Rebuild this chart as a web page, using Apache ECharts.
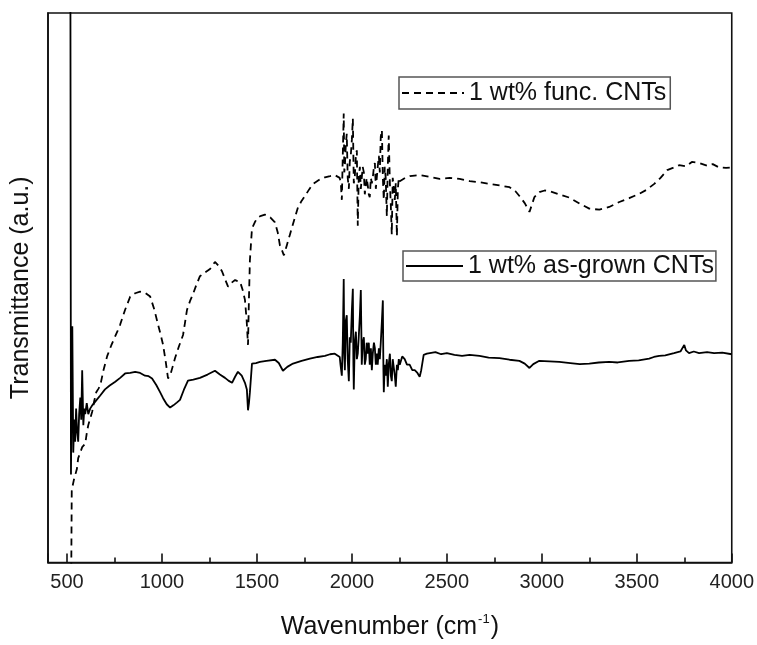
<!DOCTYPE html>
<html>
<head>
<meta charset="utf-8">
<script src="https://cdn.jsdelivr.net/npm/echarts@6/dist/echarts.min.js"></script>
<style>
html,body{margin:0;padding:0;background:#fff;}
#chart{width:757px;height:645px;}
</style>
</head>
<body>
<div id="chart"></div>
<script>
// Wavenumber ticks (major every 500, minor halfway)
var majorTicks = [500, 1000, 1500, 2000, 2500, 3000, 3500, 4000];

// 1 wt% as-grown CNTs (solid)
var asGrownWn = [518,521,524,528,533,538,543,548,553,559,564,570,575,580,586,591,596,604,612,622,633,654,675,700,725,754,780,806,833,859,885,911,930,948,970,990,1006,1025,1043,1060,1078,1095,1115,1137,1165,1200,1240,1279,1305,1332,1350,1369,1385,1400,1420,1437,1447,1453,1458,1463,1474,1495,1516,1550,1595,1615,1637,1660,1690,1735,1779,1820,1858,1885,1910,1936,
1940,1947,1952,1957,1960,1963,1968,1973,1978,1984,1989,1994,2000,2005,2008,2010,2015,2021,2026,2031,2036,2042,2047,2052,2057,2063,2068,2073,2078,2084,2089,2094,2100,2105,2110,2116,2121,2126,2131,2136,2142,2147,2152,2158,2163,2166,2168,2173,2178,2184,2189,2194,2200,2205,2210,2215,2221,2226,2231,2237,2242,2247,2252,
2265,2278,2290,2304,2318,2331,2345,2357,2365,2378,2395,2410,2440,2470,2500,2540,2580,2620,2672,2720,2777,2830,2882,2910,2935,2955,2987,3040,3092,3150,3200,3250,3300,3355,3400,3460,3510,3565,3590,3618,3650,3696,3730,3750,3759,3775,3800,3828,3870,3907,3950,4000];
var asGrownT = [104,16,30,43,20,26,22,28,24,22,27,30,26,35,25,28,27,29,27,28,28.6,29.5,30.4,31.5,32.2,32.9,33.6,34.4,34.5,34.7,34.5,34.0,33.9,33.5,32.3,31,29.9,28.8,28.2,28.6,29.1,29.6,31.4,33.1,33.3,33.6,34.2,34.9,34.2,33.6,33.1,32.7,33.8,34.7,34.0,32.7,31.5,27.7,29,31,36.2,36.3,36.5,36.7,36.9,36.3,34.9,35.6,36.2,36.7,37.1,37.4,37.6,37.9,38.0,37.4,
36,34,40,51.6,38,35,44,45,37,33,41,40,46,49.8,36,31.5,40,42,37,38,41,45,49.6,36,40,41,36,37,40,38,40,36,39,35,38,40,39,36,38,36,39,37,40,44,47.7,35,31,36,34,37,32,36,38,34,33,37,37,34,32,36,35,37,36,
37.5,37,36,36,35,35,34.5,33.8,35,37.8,38,38.1,38.3,37.9,38.1,37.8,37.6,37.8,37.6,37.3,37.2,36.9,36.7,36.2,35.4,36.1,36.7,36.6,36.5,36.3,36.1,36.2,36.4,36.5,36.4,36.7,36.8,37.1,37.4,37.6,37.7,38.1,38.4,39.6,38.6,38.1,38.4,38.1,38.3,38.1,38.2,37.9];

// 1 wt% func. CNTs (dashed)
var funcWn = [521,525,530,536,544,552,559,570,580,588,596,604,612,622,633,644,654,665,675,692,712,733,754,767,780,806,833,859,885,911,938,960,980,993,1006,1020,1032,1043,1056,1069,1090,1111,1122,1132,1148,1164,1182,1200,1227,1253,1279,1298,1316,1333,1348,1366,1385,1398,1411,1425,1437,1446,1453,1458,1463,1474,1490,1505,1522,1542,1570,1595,1610,1621,1632,1642,1658,1674,1695,1716,1735,1753,1775,1795,1826,1858,1885,1910,1936,
1942,1947,1952,1957,1960,1963,1968,1973,1978,1984,1989,1994,2000,2005,2010,2015,2021,2026,2031,2036,2042,2047,2052,2057,2063,2068,2073,2078,2084,2089,2094,2100,2105,2110,2116,2121,2126,2131,2136,2142,2147,2152,2158,2163,2168,2173,2178,2184,2189,2194,2200,2205,2210,2215,2221,2226,2231,2237,2242,2247,2252,
2280,2305,2330,2357,2410,2462,2515,2567,2620,2672,2725,2780,2830,2860,2882,2910,2935,2961,2987,3015,3040,3092,3145,3200,3250,3303,3355,3408,3460,3513,3550,3592,3625,3660,3690,3723,3760,3790,3828,3870,3900,3933,3970,4000];
var funcT = [-10,13,14,15,15,17,19,20,21,21.3,21.6,23.5,25,26.2,27.5,29.5,31,31.6,32.2,35,37.6,39.5,41.2,42.2,43.3,46,48.4,49,49.3,49.1,48.4,46,43.2,41.5,39.6,36.5,33.5,34,35.6,37.2,39.4,41.4,43.8,46,47.6,48.9,50.6,52.1,52.8,53.4,54.7,54,53,51.5,50.2,50.9,51.4,51.2,51.1,49.6,47.8,44,39.6,48,55,60.8,62,62.8,63.1,63.3,62.8,61.9,60,57.7,56.8,55.9,57.8,59.7,62.2,64.6,65.8,66.7,67.9,68.9,69.6,70.1,70.3,70.5,70,
69,66,74,81.7,71,72,76,78,70,68,73,74,77,80.8,69,70,74,75,61.3,70,72,68,68,72,71,67,67,70,68.5,67,66.5,70,69,70,72,72.7,68,68,72,74,71,77.5,78.7,70,66,72,70,63,72,77.7,69,65,59.7,70,68,66,69,59.4,68,70,69.4,
70,70.3,70.4,70.5,70.2,69.8,70,69.8,69.4,69.2,68.9,68.6,68.3,67.6,66.7,65.4,63.8,66.5,67.4,67.7,67.6,67,66.4,65.3,64.4,64.2,64.7,65.6,66.3,67.1,67.8,68.9,70,71.4,71.8,72.3,72.1,72.9,72.7,72.2,72.5,71.9,71.8,71.9];

function pairs(xs, ys){ var out=[]; for(var i=0;i<xs.length;i++){ out.push([xs[i], ys[i]]); } return out; }

var chart = echarts.init(document.getElementById('chart'), null, {renderer:'canvas'});
var fontFam = '"Liberation Sans", Arial, sans-serif';
var noIcon = {color: 'rgba(0,0,0,0)', borderColor: 'rgba(0,0,0,0)', borderWidth: 0};
chart.setOption({
  animation: false,
  backgroundColor: '#fff',
  grid: {left: 48, right: 24, top: 13, bottom: 76, show: true, borderColor: '#111', borderWidth: 1.6, backgroundColor: 'transparent'},
  xAxis: {
    type: 'value', min: 400, max: 4000, splitNumber: 7,
    axisLine: {show: true, lineStyle: {color: '#111', width: 1.6}},
    splitLine: {show: false},
    axisTick: {show: true, inside: true, length: 9, lineStyle: {color: '#111', width: 1.6}},
    minorTick: {show: true, splitNumber: 2, length: 5, lineStyle: {color: '#111', width: 1.6}},
    axisLabel: {show: true, showMinLabel: false, margin: 10, fontSize: 20, color: '#222', fontFamily: fontFam,
      formatter: function (v) { return majorTicks.indexOf(v) >= 0 ? String(v) : ''; }},
    name: '{a|Wavenumber (cm}{s|-1}{a|)}',
    nameLocation: 'middle', nameGap: 50,
    nameTextStyle: {rich: {
      a: {fontSize: 25, color: '#111', fontFamily: fontFam, lineHeight: 30},
      s: {fontSize: 13, color: '#111', fontFamily: fontFam, verticalAlign: 'top', lineHeight: 30, padding: [0, 1, 0, 1]}
    }}
  },
  yAxis: {
    type: 'value', min: 0, max: 100,
    axisLine: {show: true, lineStyle: {color: '#111', width: 1.6}},
    axisTick: {show: false}, axisLabel: {show: false}, splitLine: {show: false},
    name: 'Transmittance (a.u.)', nameLocation: 'middle', nameGap: 14,
    nameTextStyle: {fontSize: 25, color: '#111', fontFamily: fontFam}
  },
  legend: [{
    data: ['1 wt% func. CNTs'], left: 399, top: 77, orient: 'horizontal',
    itemWidth: 62, itemHeight: 14, itemGap: 0, padding: [2, 4, 2, 2],
    borderColor: '#555', borderWidth: 1.5, backgroundColor: '#fff', selectedMode: false,
    itemStyle: noIcon,
    textStyle: {fontSize: 25, lineHeight: 28, color: '#111', fontFamily: fontFam}
  }, {
    data: ['1 wt% as-grown CNTs'], left: 403, top: 251, orient: 'horizontal',
    itemWidth: 57, itemHeight: 14, itemGap: 0, padding: [1, 2, 1, 2],
    borderColor: '#555', borderWidth: 1.5, backgroundColor: '#fff', selectedMode: false,
    itemStyle: noIcon,
    textStyle: {fontSize: 25, lineHeight: 28, color: '#111', fontFamily: fontFam}
  }],
  series: [{
    name: '1 wt% func. CNTs', type: 'line', data: pairs(funcWn, funcT),
    symbol: 'none', clip: true,
    lineStyle: {color: '#000', width: 1.8, type: [7, 5]}, itemStyle: {color: '#000'}
  }, {
    name: '1 wt% as-grown CNTs', type: 'line', data: pairs(asGrownWn, asGrownT),
    symbol: 'none', clip: true,
    lineStyle: {color: '#000', width: 1.8, type: 'solid'}, itemStyle: {color: '#000'}
  }]
});
</script>
</body>
</html>
